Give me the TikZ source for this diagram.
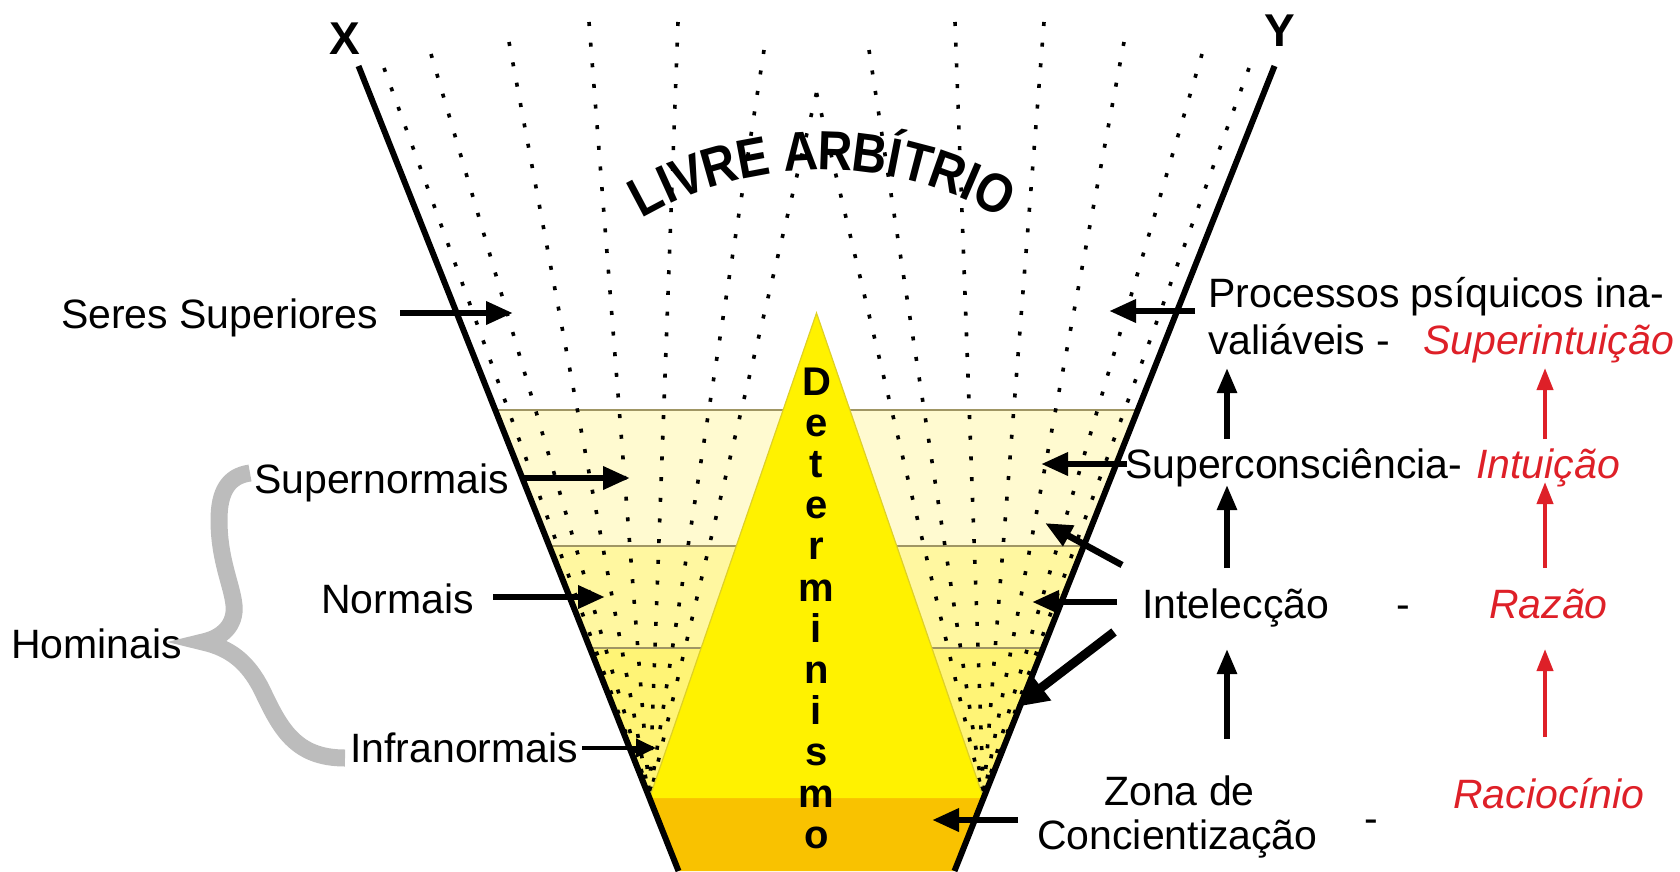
\documentclass[tikz,border=0pt]{standalone}
\usepackage{fontspec}
\setmainfont{Liberation Sans}
\usetikzlibrary{arrows.meta}
\definecolor{bandA}{RGB}{255,250,208}
\definecolor{bandB}{RGB}{255,247,160}
\definecolor{bandC}{RGB}{255,244,118}
\definecolor{orangeband}{RGB}{249,194,0}
\definecolor{tri}{RGB}{255,242,0}
\definecolor{triedge}{RGB}{222,208,40}
\definecolor{sepline}{RGB}{160,150,100}
\definecolor{redtxt}{RGB}{222,32,40}
\definecolor{bracegray}{RGB}{188,188,188}
\tikzset{
  lbl/.style={anchor=base west, inner sep=0pt, font=\fontsize{41}{49}\selectfont},
  rlbl/.style={anchor=base west, inner sep=0pt, text=redtxt, font=\fontsize{41}{49}\selectfont\itshape},
  xylbl/.style={inner sep=0pt, font=\fontsize{46}{52}\selectfont\bfseries},
  arcl/.style={anchor=base, inner sep=0pt, font=\fontsize{48}{54}\selectfont\bfseries},
  detl/.style={anchor=base, inner sep=0pt, font=\fontsize{40}{46}\selectfont\bfseries},
  dotl/.style={line width=3.6pt, dash pattern=on 4pt off 16.7pt},
  edgeline/.style={line width=6pt},
  arr/.style={line width=6.5pt, -{Triangle[length=27pt,width=22pt]}},
  arrthin/.style={line width=4.5pt, -{Triangle[length=20pt,width=18pt]}},
  arrthick/.style={line width=9pt, -{Triangle[length=32pt,width=30pt]}},
  vup/.style={line width=5.5pt, -{Triangle[length=25pt,width=19pt]}},
  rup/.style={draw=redtxt, line width=4pt, -{Triangle[length=22pt,width=16pt]}},
}
\begin{document}
\begin{tikzpicture}[x=1pt,y=-1pt]
\useasboundingbox (0,0) rectangle (1680,871);
% trapezoid corners
\coordinate (TL) at (358.5,66);
\coordinate (TR) at (1274.5,66);
\coordinate (BL) at (678.5,871);
\coordinate (BR) at (954.5,871);
\coordinate (CL) at (649.5,798);
\coordinate (CR) at (983.5,798);
\coordinate (AP) at (816.5,313);
% bands
\begin{scope}
  \clip (TL) -- (TR) -- (BR) -- (BL) -- cycle;
  \fill[bandA] (300,410) rectangle (1400,546);
  \fill[bandB] (300,546) rectangle (1400,648);
  \fill[bandC] (300,648) rectangle (1400,798);
  \fill[orangeband] (300,798) rectangle (1400,880);
  \draw[sepline, line width=1.5pt] (300,410) -- (1400,410);
  \draw[sepline, line width=1.5pt] (300,546) -- (1400,546);
  \draw[sepline, line width=1.5pt] (300,648) -- (1400,648);
\end{scope}
% dotted fan lines
\foreach \px/\py [count=\i] in {384/68, 431/54, 509/42, 589/22, 678/22, 764/50, 816.5/93}
  \draw[dotl] (\px,\py) coordinate (dL\i) -- (CL);
\foreach \px/\py [count=\i] in {1249/68, 1202/54, 1124/42, 1044/22, 955/22, 869/50, 816.5/93}
  \draw[dotl] (\px,\py) coordinate (dR\i) -- (CR);
% determinism triangle
\fill[tri] (AP) -- (CR) -- (CL) -- cycle;
\draw[triedge, line width=1.2pt] (CL) -- (AP) -- (CR);
% edges
\draw[edgeline] (TL) -- (BL);
\draw[edgeline] (TR) -- (BR);
\node[xylbl] (X) at (345,39) {X};
\node[xylbl] (Y) at (1280,31) {Y};
% LIVRE ARBITRIO
\foreach \ch/\t [count=\i] in {L/-27.9, I/-24.4, V/-20.8, R/-15.8, E/-10.6, A/-3.3, R/2.0, B/7.3, Í/11.1, T/14.6, R/19.5, I/23.3, O/27.3}
  \node[arcl, rotate=-\t] (lv\i) at ({822+358*sin(\t)},{528-358*cos(\t)}) {\scalebox{1}[1.15]{\ch}};
% Determinismo
\foreach \ch [count=\i from 0] in {D,e,t,e,r,m,i,n,i,s,m,o}
  \node[detl] (det\i) at (816.5,{395+41.2*\i}) {\ch};
% left labels
\node[lbl] (seres) at (61,328) {Seres Superiores};
\node[lbl] (supern) at (254,493) {Supernormais};
\node[lbl] (norm) at (321,613) {Normais};
\node[lbl] (homin) at (11,658) {Hominais};
\node[lbl] (infra) at (350,762) {Infranormais};
% brace
\draw[bracegray, line width=17pt, line join=miter]
  (250,473) .. controls (228,476) and (219,492) .. (219,520)
  .. controls (219,560) and (232,585) .. (234,605)
  .. controls (236,625) and (222,638) .. (203,642)
  .. controls (230,648) and (248,662) .. (262,690)
  .. controls (280,728) and (295,758) .. (345,758);
% left arrows
\coordinate (aS1) at (400,313); \coordinate (aS2) at (513,313);
\coordinate (aN1) at (520,478); \coordinate (aN2) at (630,478);
\coordinate (aO1) at (493,597); \coordinate (aO2) at (605,597);
\coordinate (aI1) at (582,748); \coordinate (aI2) at (656,748);
\draw[arr] (aS1) -- (aS2);
\draw[arr] (aN1) -- (aN2);
\draw[arr] (aO1) -- (aO2);
\draw[arrthin] (aI1) -- (aI2);
% right labels
\node[lbl] (proc) at (1208,307) {Processos psíquicos ina-};
\node[lbl] (vali) at (1208,354) {valiáveis -};
\node[rlbl] (supint) at (1423,354) {Superintuição};
\node[lbl] (supc) at (1125,478) {Superconsciência-};
\node[rlbl] (intu) at (1476,478) {Intuição};
\node[lbl] (intel) at (1142,618) {Intelecção};
\node[lbl] (dash1) at (1396,618) {-};
\node[rlbl] (razao) at (1489,618) {Razão};
\node[lbl] (zona) at (1104,805) {Zona de};
\node[lbl] (conc) at (1037,849) {Concientização};
\node[lbl] (dash2) at (1364,832) {-};
\node[rlbl] (racio) at (1453,808) {Raciocínio};
% right arrows
\coordinate (aP1) at (1195,311); \coordinate (aP2) at (1109,311);
\coordinate (aC1) at (1127,464); \coordinate (aC2) at (1041,464);
\coordinate (aD1) at (1122,565); \coordinate (aD2) at (1045,523);
\coordinate (aH1) at (1117,602); \coordinate (aH2) at (1032,602);
\coordinate (aT1) at (1114,632); \coordinate (aT2) at (1016,707);
\coordinate (aZ1) at (1018,820); \coordinate (aZ2) at (932,820);
\draw[arr] (aP1) -- (aP2);
\draw[arr] (aC1) -- (aC2);
\draw[arr] (aD1) -- (aD2);
\draw[arr] (aH1) -- (aH2);
\draw[arrthick] (aT1) -- (aT2);
\draw[arr] (aZ1) -- (aZ2);
% vertical arrows
\coordinate (v1a) at (1227,439); \coordinate (v1b) at (1227,368);
\coordinate (v2a) at (1227,568); \coordinate (v2b) at (1227,485);
\coordinate (v3a) at (1227,739); \coordinate (v3b) at (1227,649);
\coordinate (r1a) at (1545,439); \coordinate (r1b) at (1545,368);
\coordinate (r2a) at (1545,568); \coordinate (r2b) at (1545,482);
\coordinate (r3a) at (1545,737); \coordinate (r3b) at (1545,649);
\draw[vup] (v1a) -- (v1b);
\draw[vup] (v2a) -- (v2b);
\draw[vup] (v3a) -- (v3b);
\draw[rup] (r1a) -- (r1b);
\draw[rup] (r2a) -- (r2b);
\draw[rup] (r3a) -- (r3b);
\end{tikzpicture}
\end{document}
